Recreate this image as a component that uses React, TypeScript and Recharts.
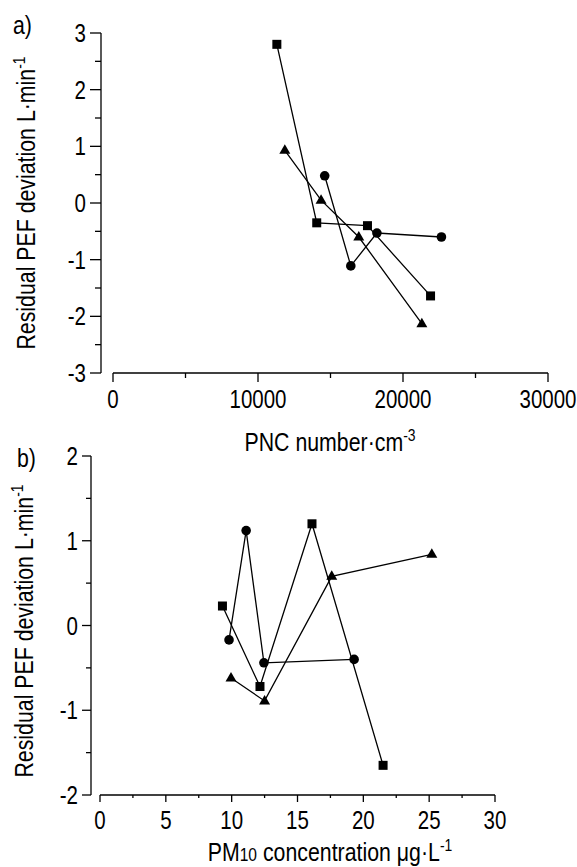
import React from "react";
import { ReferenceLine, Scatter, ScatterChart, XAxis, YAxis } from "recharts";

// panel a: PNC (number/cm3) vs residual PEF deviation
const pncSquares = [
  { x: 11300, y: 2.8 },
  { x: 14050, y: -0.35 },
  { x: 17550, y: -0.4 },
  { x: 21900, y: -1.64 },
];
const pncCircles = [
  { x: 14600, y: 0.48 },
  { x: 16400, y: -1.11 },
  { x: 18200, y: -0.53 },
  { x: 22650, y: -0.6 },
];
const pncTriangles = [
  { x: 11850, y: 0.93 },
  { x: 14350, y: 0.05 },
  { x: 16950, y: -0.6 },
  { x: 21300, y: -2.13 },
];
const pncTicks = [0, 5000, 10000, 15000, 20000, 25000, 30000];
const pefTicksA = [-3, -2.5, -2, -1.5, -1, -0.5, 0, 0.5, 1, 1.5, 2, 2.5, 3];

// panel b: PM10 (ug/L) vs residual PEF deviation
const pmSquares = [
  { x: 9.3, y: 0.23 },
  { x: 12.15, y: -0.72 },
  { x: 16.1, y: 1.2 },
  { x: 21.5, y: -1.65 },
];
const pmCircles = [
  { x: 9.8, y: -0.17 },
  { x: 11.1, y: 1.12 },
  { x: 12.45, y: -0.44 },
  { x: 19.3, y: -0.4 },
];
const pmTriangles = [
  { x: 9.95, y: -0.62 },
  { x: 12.5, y: -0.89 },
  { x: 17.6, y: 0.58 },
  { x: 25.2, y: 0.84 },
];
const pmTicks = [0, 2.5, 5, 7.5, 10, 12.5, 15, 17.5, 20, 22.5, 25, 27.5, 30];
const pefTicksB = [-2, -1.5, -1, -0.5, 0, 0.5, 1, 1.5, 2];

// no narrow font installed, so squeeze Liberation Sans sideways
const FONT = '"Liberation Sans", Arial, sans-serif';
const SQ = 0.82;
const SW = 1.3;

const isMajor = (v: number, step: number) => Math.abs(v / step - Math.round(v / step)) < 1e-9;

// text squeezed horizontally (in its own reading direction)
const NarrowText = ({ x, y, rotate = 0, anchor = "middle", size = 25, baseline, children }: any) => (
  <g transform={`translate(${x}, ${y}) rotate(${rotate}) scale(${SQ}, 1)`}>
    <text x={0} y={0} textAnchor={anchor} dominantBaseline={baseline} fontSize={size} fontFamily={FONT} fill="#000">
      {children}
    </text>
  </g>
);

const YTick = (props: any) => {
  const { x, y, payload, major, minor, step } = props;
  const big = isMajor(payload.value, step);
  const len = big ? major : minor;
  return (
    <g>
      <line x1={x - len} x2={x} y1={y} y2={y} stroke="#000" strokeWidth={SW} />
      {big && (
        <NarrowText x={x - major - 4} y={y + 9} anchor="end">
          {payload.value}
        </NarrowText>
      )}
    </g>
  );
};

const XTick = (props: any) => {
  const { x, y, payload, major, minor, step, gap } = props;
  const big = isMajor(payload.value, step);
  const len = big ? major : minor;
  return (
    <g>
      <line x1={x} x2={x} y1={y} y2={y + len} stroke="#000" strokeWidth={SW} />
      {big && (
        <NarrowText x={x} y={y + gap}>
          {payload.value}
        </NarrowText>
      )}
    </g>
  );
};

const Square = (p: any) => <rect x={p.cx - 4.5} y={p.cy - 4.5} width={9} height={9} fill="#000" />;
const Circle = (p: any) => <circle cx={p.cx} cy={p.cy} r={4.8} fill="#000" />;
const Triangle = (p: any) => (
  <polygon points={`${p.cx},${p.cy - 6} ${p.cx + 5.5},${p.cy + 3.5} ${p.cx - 5.5},${p.cy + 3.5}`} fill="#000" />
);

const lineStyle = { stroke: "#000", strokeWidth: SW };

const YTitle = ({ bx, cy }: { bx: number; cy: number }) => (
  <NarrowText x={bx} y={cy} rotate={-90} size={26}>
    Residual PEF deviation L·min<tspan dy={-10} fontSize={17}>-1</tspan>
  </NarrowText>
);

const PncTitle = ({ cx, by }: { cx: number; by: number }) => (
  <NarrowText x={cx} y={by} size={26}>
    PNC number·cm<tspan dy={-10} fontSize={17}>-3</tspan>
  </NarrowText>
);

const PmTitle = ({ cx, by }: { cx: number; by: number }) => (
  <NarrowText x={cx} y={by} size={26}>
    PM<tspan fontSize={19}>10</tspan> concentration μg·L<tspan dy={-10} fontSize={17}>-1</tspan>
  </NarrowText>
);

export default function App() {
  return (
    <div style={{ position: "absolute", left: 0, top: 0, width: 577, height: 867, background: "#fff" }}>
      <div style={{ position: "absolute", left: 0, top: 0 }}>
        <ScatterChart width={577} height={460} margin={{ top: 33, right: 29, left: 0, bottom: 0 }}>
          <XAxis
            type="number"
            dataKey="x"
            domain={[0, 30000]}
            ticks={pncTicks}
            padding={{ left: 12, right: 0 }}
            height={87}
            axisLine={false}
            tickLine={false}
            tickSize={0}
            tickMargin={0}
            interval={0}
            tick={<XTick major={9} minor={5} step={10000} gap={35} />}
            label={<PncTitle cx={330} by={451} />}
          />
          <YAxis
            type="number"
            dataKey="y"
            domain={[-3, 3]}
            ticks={pefTicksA}
            width={101}
            axisLine={{ stroke: "#000", strokeWidth: SW }}
            tickLine={false}
            tickSize={0}
            tickMargin={0}
            interval={0}
            tick={<YTick major={11} minor={6} step={1} />}
            label={<YTitle bx={35} cy={203} />}
          />
          <ReferenceLine segment={[{ x: 0, y: -3 }, { x: 30000, y: -3 }]} stroke="#000" strokeWidth={SW} />
          <Scatter data={pncSquares} shape={<Square />} line={lineStyle} lineType="joint" isAnimationActive={false} />
          <Scatter data={pncCircles} shape={<Circle />} line={lineStyle} lineType="joint" isAnimationActive={false} />
          <Scatter data={pncTriangles} shape={<Triangle />} line={lineStyle} lineType="joint" isAnimationActive={false} />
        </ScatterChart>
        <svg style={{ position: "absolute", left: 0, top: 0 }} width={60} height={40}>
          <NarrowText x={13} y={34} anchor="start" size={26}>a)</NarrowText>
        </svg>
      </div>
      <div style={{ position: "absolute", left: 0, top: 430 }}>
        <ScatterChart width={577} height={437} margin={{ top: 26, right: 82, left: 0, bottom: 0 }}>
          <XAxis
            type="number"
            dataKey="x"
            domain={[0, 30]}
            ticks={pmTicks}
            padding={{ left: 9, right: 0 }}
            height={72}
            axisLine={false}
            tickLine={false}
            tickSize={0}
            tickMargin={0}
            interval={0}
            tick={<XTick major={7} minor={3} step={5} gap={34} />}
            label={<PmTitle cx={330} by={431} />}
          />
          <YAxis
            type="number"
            dataKey="y"
            domain={[-2, 2]}
            ticks={pefTicksB}
            width={91}
            axisLine={{ stroke: "#000", strokeWidth: SW }}
            tickLine={false}
            tickSize={0}
            tickMargin={0}
            interval={0}
            tick={<YTick major={9} minor={5} step={1} />}
            label={<YTitle bx={33} cy={201} />}
          />
          <ReferenceLine segment={[{ x: 0, y: -2 }, { x: 30, y: -2 }]} stroke="#000" strokeWidth={SW} />
          <Scatter data={pmSquares} shape={<Square />} line={lineStyle} lineType="joint" isAnimationActive={false} />
          <Scatter data={pmCircles} shape={<Circle />} line={lineStyle} lineType="joint" isAnimationActive={false} />
          <Scatter data={pmTriangles} shape={<Triangle />} line={lineStyle} lineType="joint" isAnimationActive={false} />
        </ScatterChart>
        <svg style={{ position: "absolute", left: 0, top: 0 }} width={60} height={50}>
          <NarrowText x={17} y={37} anchor="start" size={26}>b)</NarrowText>
        </svg>
      </div>
    </div>
  );
}
